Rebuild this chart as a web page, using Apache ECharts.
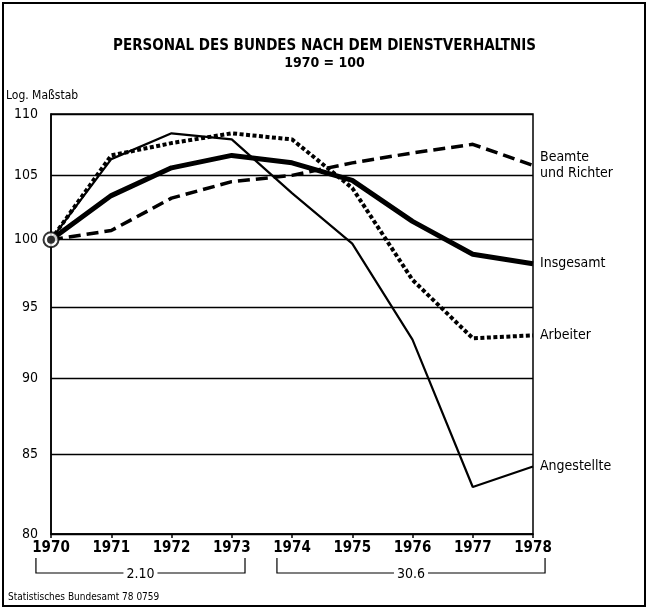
<!DOCTYPE html>
<html>
<head>
<meta charset="utf-8">
<script src="https://cdn.jsdelivr.net/npm/echarts@6/dist/echarts.min.js"></script>
<style>
html, body { margin: 0; background: #fff; }
#main { width: 649px; height: 614px; }
</style>
</head>
<body>
<div id="main"></div>
<script>
// Personal des Bundes, 1970 = 100, log. Maßstab
var years = [1970, 1971, 1972, 1973, 1974, 1975, 1976, 1977, 1978]
var beamte = [100, 100.7, 103.2, 104.5, 105.0, 106.0, 106.8, 107.5, 105.8]
var insgesamt = [100, 103.4, 105.6, 106.6, 106.0, 104.6, 101.4, 98.9, 98.2]
var arbeiter = [100, 106.6, 107.6, 108.4, 107.9, 104.0, 97.0, 92.8, 93.0]
var angestellte = [100, 106.3, 108.4, 107.9, 103.6, 99.7, 92.7, 82.9, 84.2]
var yTicks = [80, 85, 90, 95, 100, 105, 110]
// Stichtage: bis 1973 jeweils 2.10., ab 1974 jeweils 30.6.
var periods = [
  {from: 1969.75, to: 1973.22, label: '2.10'},
  {from: 1973.75, to: 1978.2, label: '30.6'}
]

var FONT = '"DejaVu Sans Condensed", "Liberation Sans Narrow", sans-serif'

function pairs(vals) {
  // log scale: plot ln(value) on a linear axis
  return years.map(function (y, i) { return [y, Math.log(vals[i])] })
}

var chart = echarts.init(document.getElementById('main'))

function lineSeries(name, vals, width, type, label) {
  return {
    name: name,
    type: 'line',
    data: pairs(vals),
    symbol: 'none',
    lineStyle: {color: '#000', width: width, type: type, cap: 'butt'},
    endLabel: {
      show: true,
      formatter: label,
      color: '#000',
      fontFamily: FONT,
      fontSize: 14,
      lineHeight: 16,
      distance: 7
    },
    z: 3
  }
}

var option = {
  animation: false,
  backgroundColor: '#fff',
  title: {
    text: 'PERSONAL DES BUNDES NACH DEM DIENSTVERHALTNIS',
    subtext: '1970 = 100',
    left: 'center',
    top: 34,
    itemGap: 2,
    textStyle: {color: '#000', fontFamily: FONT, fontSize: 15, fontWeight: 'bold'},
    subtextStyle: {color: '#000', fontFamily: FONT, fontSize: 14, fontWeight: 'bold'}
  },
  grid: {
    left: 51, right: 116, top: 114, bottom: 80,
    show: true, borderColor: '#000', borderWidth: 1.5
  },
  xAxis: {
    type: 'value',
    min: years[0],
    max: years[years.length - 1],
    interval: 1,
    axisLine: {lineStyle: {color: '#000', width: 1.5}},
    axisTick: {length: 4, lineStyle: {color: '#000', width: 1.5}},
    axisLabel: {
      color: '#000', fontFamily: FONT, fontSize: 15, fontWeight: 'bold', margin: 7,
      formatter: function (v) { return String(v) }
    },
    splitLine: {show: false}
  },
  yAxis: {
    type: 'value',
    min: Math.log(yTicks[0]),
    max: Math.log(yTicks[yTicks.length - 1]),
    axisLine: {show: true, lineStyle: {color: '#000', width: 1.5}},
    axisTick: {show: false, customValues: yTicks.map(Math.log)},
    axisLabel: {
      customValues: yTicks.map(Math.log),
      color: '#000', fontFamily: FONT, fontSize: 14, margin: 13,
      formatter: function (v) { return String(Math.round(Math.exp(v))) }
    },
    splitLine: {show: true, lineStyle: {color: '#000', width: 1.3}}
  },
  series: [
    lineSeries('Beamte und Richter', beamte, 3.5, [12, 6], 'Beamte\nund Richter'),
    lineSeries('Insgesamt', insgesamt, 5, 'solid', 'Insgesamt'),
    lineSeries('Arbeiter', arbeiter, 4, [4, 2.5], 'Arbeiter'),
    lineSeries('Angestellte', angestellte, 2.2, 'solid', 'Angestellte'),
    {
      type: 'scatter',
      data: [[years[0], Math.log(insgesamt[0])]],
      symbolSize: 15,
      itemStyle: {color: '#fff', borderColor: '#000', borderWidth: 2},
      z: 5
    },
    {
      type: 'scatter',
      data: [[years[0], Math.log(insgesamt[0])]],
      symbolSize: 8,
      itemStyle: {color: '#000'},
      z: 6
    }
  ]
}
chart.setOption(option)

// Klammern unter der Zeitachse + Rahmen + Texte
var bTop = 558, bBase = 573
var graphics = [
  {type: 'rect', shape: {x: 3, y: 3, width: 642, height: 603}, style: {stroke: '#000', lineWidth: 2, fill: null}},
  {type: 'text', left: 6, top: 90, style: {text: 'Log. Maßstab', fill: '#000', font: '12px ' + FONT}},
  {type: 'text', left: 8, top: 592, style: {text: 'Statistisches Bundesamt 78 0759', fill: '#000', font: '10px ' + FONT}}
]
periods.forEach(function (p) {
  var x1 = chart.convertToPixel({xAxisIndex: 0}, p.from)
  var x2 = chart.convertToPixel({xAxisIndex: 0}, p.to)
  graphics.push({
    type: 'polyline',
    shape: {points: [[x1, bTop], [x1, bBase], [x2, bBase], [x2, bTop]]},
    style: {stroke: '#000', lineWidth: 1.2, fill: null}
  })
  graphics.push({
    type: 'text',
    x: (x1 + x2) / 2, y: bBase + 1,
    style: {
      text: p.label, fill: '#000', font: '14px ' + FONT,
      align: 'center', verticalAlign: 'middle',
      backgroundColor: '#fff', padding: [0, 3]
    },
    z: 10
  })
})
chart.setOption({graphic: graphics})
</script>
</body>
</html>
